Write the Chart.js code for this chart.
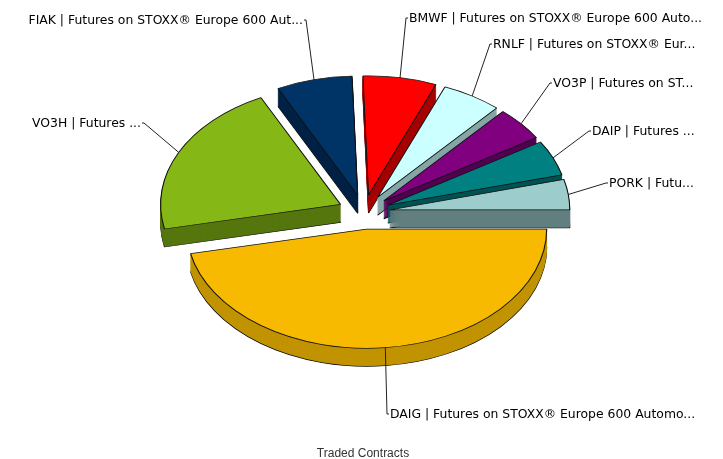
<!DOCTYPE html>
<html>
<head>
<meta charset="utf-8">
<style>
  html, body { margin: 0; padding: 0; background: #fff; }
  canvas { display: block; }
</style>
<script src="https://cdn.jsdelivr.net/npm/chart.js@4/dist/chart.umd.min.js"></script>
</head>
<body>
<canvas id="myChart" width="723" height="459"></canvas>
<script>
// data
const categories = [
    'DAIG | Futures on STOXX® Europe 600 Automo...',
    'VO3H | Futures ...',
    'FIAK | Futures on STOXX® Europe 600 Aut...',
    'BMWF | Futures on STOXX® Europe 600 Auto...',
    'RNLF | Futures on STOXX® Eur...',
    'VO3P | Futures on ST...',
    'DAIP | Futures ...',
    'PORK | Futu...'
];
const shares = [46.7, 21.0, 6.8, 6.6, 5.4, 4.6, 4.8, 4.1];
const axisTitle = 'Traded Contracts';

// colours
const topColors = ['#F7BA00', '#85B716', '#003366', '#FF0000', '#CCFFFF', '#800080', '#008080', '#9CCCCC'];
const sideColors = ['#C29300', '#56760E', '#002145', '#A60000', '#85A6A6', '#530053', '#005353', '#648080'];

// where each leader line bends (x, y) and which side its text sits
const elbows = [[387, 414], [144, 123], [306, 20], [406, 18], [490, 44], [550, 83], [589, 131], [606, 183]];
const textSide = ['right', 'left', 'left', 'right', 'right', 'right', 'right', 'right'];

// fake 3d look
const squash = 0.662;
const depth = 18;
const pieX = 364;
const pieY = 212;
const explode = 26;

function arcOptions(fill, stroke, width) {
    return {
        backgroundColor: fill,
        borderColor: stroke,
        borderWidth: width,
        borderAlign: 'center',
        borderJoinStyle: 'bevel',
        offset: 0,
        spacing: 0,
        circular: true
    };
}

function drawArcAt(ctx, arc, shift, opts) {
    const saved = arc.options;
    const a = (arc.startAngle + arc.endAngle) / 2;
    arc.options = opts;
    ctx.save();
    ctx.translate(pieX, pieY + shift);
    ctx.scale(1, squash);
    // pull the slice out along its own middle angle
    ctx.translate(Math.cos(a) * explode - arc.x, Math.sin(a) * explode - arc.y);
    arc.draw(ctx);
    ctx.restore();
    arc.options = saved;
}

const pie3d = {
    id: 'pie3d',
    beforeDatasetsDraw(chart) {
        const ctx = chart.ctx;
        const arcs = chart.getDatasetMeta(0).data.slice();
        const mid = a => (a.startAngle + a.endAngle) / 2;
        // back slices first, the big front one last
        arcs.sort((a, b) => Math.sin(mid(a)) - Math.sin(mid(b)));
        arcs.forEach(arc => {
            const i = chart.getDatasetMeta(0).data.indexOf(arc);
            // only the lowest copy gets an outline, the fills above hide the rest of it
            drawArcAt(ctx, arc, depth, arcOptions(sideColors[i], '#111', 1.1));
            for (let d = depth - 1; d > 0; d--) {
                drawArcAt(ctx, arc, d, arcOptions(sideColors[i], sideColors[i], 0.6));
            }
            drawArcAt(ctx, arc, 0, arcOptions(topColors[i], '#111', 1.1));
        });
        return false;
    },
    afterDraw(chart) {
        const ctx = chart.ctx;
        ctx.save();
        ctx.font = '12.4px "DejaVu Sans"';
        ctx.fillStyle = '#000';
        ctx.strokeStyle = '#222';
        ctx.lineWidth = 1;
        ctx.textBaseline = 'middle';
        chart.getDatasetMeta(0).data.forEach((arc, i) => {
            const a = (arc.startAngle + arc.endAngle) / 2;
            const r = arc.outerRadius + explode;
            const sx = pieX + Math.cos(a) * r;
            const sy = pieY + Math.sin(a) * r * squash;
            const [ex, ey] = elbows[i];
            const dir = textSide[i] === 'right' ? 1 : -1;
            ctx.beginPath();
            ctx.moveTo(sx, sy);
            ctx.lineTo(ex, ey);
            ctx.lineTo(ex + dir * 2, ey);
            ctx.stroke();
            ctx.textAlign = dir > 0 ? 'left' : 'right';
            ctx.fillText(categories[i], ex + dir * 3, ey + 1);
        });
        ctx.restore();
    }
};

new Chart(document.getElementById('myChart'), {
    type: 'pie',
    data: {
        labels: categories,
        datasets: [{
            data: shares,
            backgroundColor: topColors,
            radius: 180,
            clip: false
        }]
    },
    options: {
        responsive: false,
        animation: false,
        rotation: 90,
        layout: { padding: { left: 3 } },
        plugins: {
            legend: { display: false },
            tooltip: { enabled: false },
            title: {
                display: true,
                text: axisTitle,
                position: 'bottom',
                color: '#333',
                font: { family: '"Liberation Sans"', size: 12, weight: 'normal' },
                padding: { top: 0, bottom: -2 }
            }
        }
    },
    plugins: [pie3d]
});
</script>
</body>
</html>
